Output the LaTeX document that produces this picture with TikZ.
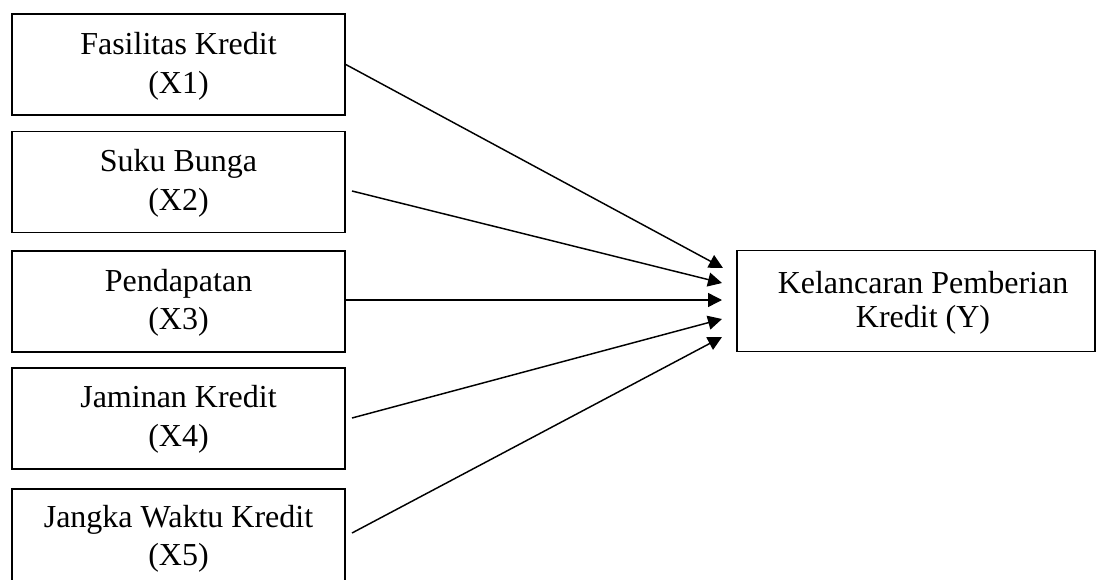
\documentclass[tikz,border=0pt]{standalone}
\usepackage{fontspec}
\setmainfont{Liberation Serif}
\usetikzlibrary{arrows.meta,calc}
\begin{document}
\begin{tikzpicture}[x=0.75pt,y=-0.75pt,
  box/.style={draw,line width=1.2pt,rectangle,inner sep=0pt,minimum width=249.75pt,minimum height=75.75pt},
  lbl/.style={anchor=base,inner sep=0pt,font=\fontsize{24}{29}\selectfont},
  arr/.style={line width=1.1pt,-{Triangle[length=10.5pt,width=10.5pt]}}]
\useasboundingbox (0,0) rectangle (1096,579);
% boxes
\node[box] (b1) at (178.5,64.5) {};
\node[box] (b2) at (178.5,182) {};
\node[box] (b3) at (178.5,301.5) {};
\node[box] (b4) at (178.5,418.5) {};
\node[box] (b5) at (178.5,539.5) {};
\node[box,minimum width=268.5pt] (y) at (916,301) {};
% labels
\node[lbl] (l1a) at ($(b1.north)+(0,41)$) {Fasilitas Kredit};
\node[lbl] (l1b) at ($(b1.north)+(0,80)$) {(X1)};
\node[lbl] (l2a) at ($(b2.north)+(0,41)$) {Suku Bunga};
\node[lbl] (l2b) at ($(b2.north)+(0,80)$) {(X2)};
\node[lbl] (l3a) at ($(b3.north)+(0,41)$) {Pendapatan};
\node[lbl] (l3b) at ($(b3.north)+(0,79)$) {(X3)};
\node[lbl] (l4a) at ($(b4.north)+(0,40)$) {Jaminan Kredit};
\node[lbl] (l4b) at ($(b4.north)+(0,79)$) {(X4)};
\node[lbl] (l5a) at ($(b5.north)+(0,39)$) {Jangka Waktu Kredit};
\node[lbl] (l5b) at ($(b5.north)+(0,77)$) {(X5)};
\node[lbl] (lya) at (923,293) {Kelancaran Pemberian};
\node[lbl] (lyb) at (923,327) {Kredit (Y)};
% arrow ends
\coordinate (s2) at (352,191);
\coordinate (s4) at (352,418);
\coordinate (s5) at (352,533);
\coordinate (t1) at (723,268);
\coordinate (t2) at (722,283);
\coordinate (t3) at (722,300);
\coordinate (t4) at (722,319);
\coordinate (t5) at (722,337);
% arrows
\draw[arr] (b1.east) -- (t1);
\draw[arr] (s2) -- (t2);
\draw[arr] (b3.east |- t3) -- (t3);
\draw[arr] (s4) -- (t4);
\draw[arr] (s5) -- (t5);
\end{tikzpicture}
\end{document}
